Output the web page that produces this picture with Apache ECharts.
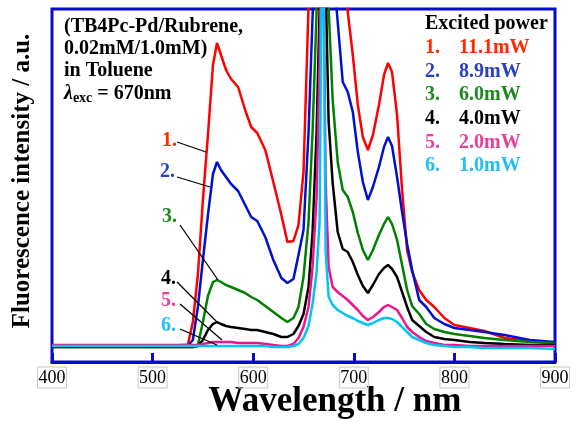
<!DOCTYPE html>
<html>
<head>
<meta charset="utf-8">
<script src="https://cdn.jsdelivr.net/npm/echarts@6/dist/echarts.min.js"></script>
<style>
html, body { margin: 0; padding: 0; background: #fff; }
#chart { width: 576px; height: 421px; }
</style>
</head>
<body>
<div id="chart"></div>
<script>
// wavelength grid (nm) shared by all spectra
var wavelength = [400, 450, 500, 520, 528, 535, 540, 545, 550, 555, 560, 564, 568, 573, 578, 585, 592, 598, 604, 612,
  620, 628, 634, 640, 645, 650, 655, 659, 663, 666, 669, 672, 675, 679, 684, 689, 694, 699, 704, 709,
  714, 719, 725, 730, 734, 738, 743, 748, 753, 758, 765, 772, 780, 790, 800, 815, 830, 850, 875, 900]

// intensities (a.u.), laser line at 670nm goes off scale
var p11_1 = [16, 16, 16, 16, 17, 17, 40, 87, 162, 227, 297, 319, 307, 292, 283, 275, 252, 235, 229, 212,
  180, 147, 120, 121, 137, 190, 355, 450, 550, 650, 800, 650, 560, 500, 450, 400, 350, 307, 257, 225,
  212, 227, 257, 287, 299, 290, 247, 172, 112, 90, 72, 62, 55, 44, 37, 34, 31, 24, 21, 19]
var p8_9 = [16, 16, 16, 16, 16, 16, 22, 55, 102, 147, 188, 200, 192, 185, 178, 171, 157, 145, 141, 125,
  102, 84, 79, 83, 107, 132, 229, 345, 450, 550, 700, 550, 450, 400, 340, 280, 270, 250, 210, 180,
  162, 175, 195, 215, 225, 216, 185, 150, 118, 92, 62, 55, 44, 38, 34, 32, 30, 27, 22, 20]
var p6_0 = [15, 15, 15, 15, 15, 15, 15, 17, 40, 66, 80, 82, 80, 77, 75, 72, 69, 65, 62, 56,
  50, 44, 40, 44, 55, 85, 140, 230, 350, 450, 650, 450, 353, 262, 200, 172, 165, 150, 129, 112,
  102, 112, 127, 138, 145, 138, 122, 97, 72, 56, 48, 38, 33, 30, 28, 26, 24, 22, 20, 19]
var p4_0 = [15, 15, 15, 15, 15, 15, 15, 16, 22, 32, 38, 40, 38, 36, 35, 34, 33, 32, 32, 30,
  28, 25, 25, 28, 36, 48, 75, 129, 230, 353, 600, 380, 240, 179, 130, 113, 110, 100, 87, 76,
  69, 77, 88, 94, 97, 93, 85, 70, 55, 42, 36, 30, 25, 23, 22, 20, 19, 18, 17, 17]
var p2_0 = [17, 17, 17, 17, 17, 17, 17, 17, 18, 19, 20, 20, 20, 20, 20, 19, 19, 19, 19, 18,
  17, 16, 16, 18, 24, 35, 55, 95, 165, 300, 500, 180, 95, 75, 70, 66, 62, 57, 52, 46,
  42, 45, 50, 55, 57, 55, 52, 44, 35, 30, 25, 21, 19, 17, 17, 16, 16, 16, 16, 16]
var p1_0 = [16, 16, 16, 16, 16, 16, 16, 16, 16, 16, 16, 16, 16, 16, 16, 16, 16, 16, 16, 16,
  15, 15, 15, 16, 18, 24, 36, 58, 90, 140, 500, 110, 65, 57, 52, 49, 46, 44, 41, 39,
  37, 39, 42, 44, 44, 43, 40, 35, 30, 25, 22, 19, 17, 16, 15, 15, 14, 14, 14, 13]

var powerNames = ['11.1mW', '8.9mW', '6.0mW', '4.0mW', '2.0mW', '1.0mW']
var powerSeries = [p11_1, p8_9, p6_0, p4_0, p2_0, p1_0]
var lineColors = ['#ff0000', '#0010d0', '#008000', '#000000', '#f0148c', '#00c4f4']
var textColors = ['#ff2a00', '#2b3fc8', '#1e8a1e', '#000000', '#e8409a', '#22bff0']

var serif = '"Liberation Serif", "Times New Roman", serif'
var frameBlue = '#0a0acb'

function pairs(ys) {
  return wavelength.map(function (w, i) {
    return [w, ys[i]]
  })
}

var chart = echarts.init(document.getElementById('chart'))

var graphics = []
// sample info, top left
var info = ['(TB4Pc-Pd/Rubrene,', '0.02mM/1.0mM)', 'in Toluene']
info.forEach(function (t, i) {
  graphics.push({
    type: 'text', left: 64, top: 17 + i * 22,
    style: { text: t, font: 'bold 20px ' + serif, fill: '#000' }
  })
})
graphics.push({
  type: 'text', left: 64, top: 84,
  style: {
    text: '{l|λ}{s|exc}{n| = 670nm}',
    rich: {
      l: { font: 'italic bold 20px ' + serif, fill: '#000' },
      s: { font: 'bold 14px ' + serif, fill: '#000', padding: [9, 0, 0, 0] },
      n: { font: 'bold 20px ' + serif, fill: '#000' }
    }
  }
})

// legend, top right
graphics.push({
  type: 'text', left: 425, top: 14,
  style: { text: 'Excited power', font: 'bold 20px ' + serif, fill: '#000' }
})
powerNames.forEach(function (n, i) {
  var y = 38 + i * 23.6
  graphics.push({
    type: 'text', left: 425, top: y,
    style: { text: (i + 1) + '.', font: 'bold 20px ' + serif, fill: textColors[i] }
  })
  graphics.push({
    type: 'text', left: 459, top: y,
    style: { text: n, font: 'bold 20px ' + serif, fill: textColors[i] }
  })
})

// curve tags with leader lines
var tags = [
  { t: [162, 131], l: [177, 142, 206, 152] },
  { t: [160, 162], l: [177, 177, 210, 187] },
  { t: [162, 207], l: [180, 225, 218, 280] },
  { t: [161, 269], l: [177, 282, 218, 323] },
  { t: [161, 291], l: [180, 304, 222, 340] },
  { t: [161, 316], l: [180, 329, 217, 345] }
]
tags.forEach(function (g, i) {
  graphics.push({
    type: 'text', left: g.t[0], top: g.t[1],
    style: { text: (i + 1) + '.', font: 'bold 20px ' + serif, fill: textColors[i] }
  })
  graphics.push({
    type: 'line',
    shape: { x1: g.l[0], y1: g.l[1], x2: g.l[2], y2: g.l[3] },
    style: { stroke: '#000', lineWidth: 1.3 },
    z: 100
  })
})

chart.setOption({
  animation: false,
  backgroundColor: '#fff',
  grid: {
    left: 52,
    right: 21,
    top: 9,
    bottom: 59,
    outerBoundsMode: 'none',
    containLabel: false,
    show: true,
    borderColor: frameBlue,
    borderWidth: 3,
    backgroundColor: '#fff'
  },
  xAxis: {
    type: 'value',
    min: 400,
    max: 900,
    interval: 100,
    name: 'Wavelength / nm',
    nameLocation: 'middle',
    nameGap: 22,
    nameMoveOverlap: false,
    nameTextStyle: {
      fontFamily: serif,
      fontWeight: 'bold',
      fontSize: 35,
      color: '#000',
      padding: [0, 0, 0, 63]
    },
    axisLine: { lineStyle: { color: frameBlue, width: 3 } },
    axisTick: { inside: true, length: 9, lineStyle: { color: frameBlue, width: 3 } },
    axisLabel: {
      fontFamily: serif,
      fontSize: 18,
      color: '#000',
      margin: 5,
      borderColor: '#c8c8c8',
      borderWidth: 1,
      padding: [2, 1, 1, 1]
    },
    splitLine: { show: false }
  },
  yAxis: {
    type: 'value',
    min: 0,
    max: 353,
    name: 'Fluorescence intensity / a.u.',
    nameLocation: 'middle',
    nameGap: 17,
    nameMoveOverlap: false,
    nameTextStyle: {
      fontFamily: serif,
      fontWeight: 'bold',
      fontSize: 25,
      color: '#000',
      padding: [0, 0, 0, 9]
    },
    axisLine: { show: false },
    axisTick: { show: false },
    axisLabel: { show: false },
    splitLine: { show: false }
  },
  series: powerSeries.map(function (ys, i) {
    return {
      name: powerNames[i],
      type: 'line',
      data: pairs(ys),
      showSymbol: false,
      clip: true,
      lineStyle: { color: lineColors[i], width: 2.5 },
      z: 2 + i
    }
  }),
  graphic: graphics
})
</script>
</body>
</html>
